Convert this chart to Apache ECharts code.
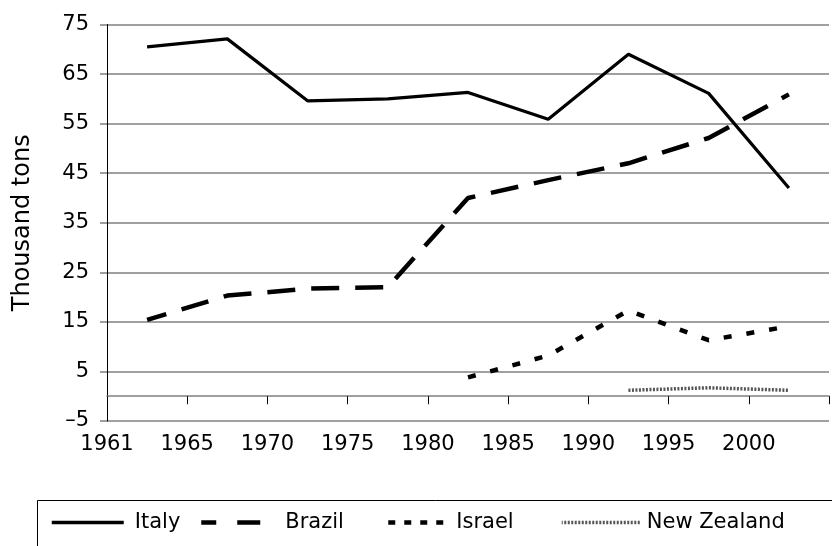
<!DOCTYPE html>
<html>
<head>
<meta charset="utf-8">
<script src="https://cdn.jsdelivr.net/npm/echarts@6/dist/echarts.min.js"></script>
<style>html,body{margin:0;padding:0;background:#fff;}#c{width:832px;height:546px;}</style>
</head>
<body>
<div id="c"></div>
<script>
// ---- data ----
var dataYears = ['1962', '1967', '1972', '1977', '1982', '1987', '1992', '1997', '2002'];
var tickLabels = ['1961', '1965', '1970', '1975', '1980', '1985', '1990', '1995', '2000', ''];
var italy = [70.5, 72.1, 59.6, 60.0, 61.3, 55.9, 69.0, 61.1, 42.0];
var brazil = [15.4, 20.3, 21.7, 22.0, 40.0, 43.6, 47.0, 52.1, 60.9];
var israel = [null, null, null, null, 3.8, 8.2, 17.3, 11.3, 14.1];
var newZealand = [null, null, null, null, null, null, 1.2, 1.7, 1.2];
var seriesNames = ['Italy', 'Brazil', 'Israel', 'New Zealand'];
var yTicks = { min: -5, max: 75, step: 10 };

var FONT = 'DejaVu Sans, sans-serif';
var chart = echarts.init(document.getElementById('c'), null, { renderer: 'canvas' });

function legendFor(name, left, width, lineStyle, pad) {
  return {
    data: [name], left: left, top: 512, padding: 0,
    itemWidth: width, itemHeight: 14, selectedMode: false,
    itemStyle: { opacity: 0, color: 'rgba(0,0,0,0)', borderWidth: 0 },
    lineStyle: lineStyle,
    textStyle: { fontFamily: FONT, fontSize: 21, color: '#000', padding: [0, 0, 0, pad] }
  };
}

var option = {
  animation: false,
  backgroundColor: '#fff',
  grid: { left: 107, top: 24.5, bottom: 125, right: -8.5, containLabel: false },
  xAxis: [
    {
      type: 'category', data: dataYears, boundaryGap: true,
      axisLine: { show: true, onZero: true, lineStyle: { color: '#808080', width: 1.5 } },
      axisTick: { show: true, inside: false, length: 8, interval: 0, lineStyle: { color: '#000', width: 1 } },
      axisLabel: { show: false },
      splitLine: { show: false }
    },
    {
      type: 'value', min: 0, max: tickLabels.length - 1, interval: 1, position: 'bottom',
      axisLine: { show: false, onZero: false },
      axisTick: { show: false },
      splitLine: { show: false },
      axisLabel: {
        show: true, margin: 13, fontFamily: FONT, fontSize: 21, color: '#000',
        formatter: function (v) { return tickLabels[Math.round(v)] || ''; }
      }
    }
  ],
  yAxis: {
    type: 'value', min: yTicks.min, max: yTicks.max, interval: yTicks.step,
    name: 'Thousand tons', nameLocation: 'middle', nameGap: 72,
    nameTextStyle: { fontFamily: FONT, fontSize: 24, color: '#000' },
    axisLine: { show: true, onZero: false, lineStyle: { color: '#000', width: 1 } },
    axisTick: { show: true, length: 7, lineStyle: { color: '#808080', width: 1.5 } },
    splitLine: { show: true, lineStyle: { color: '#808080', width: 1.5 } },
    axisLabel: {
      margin: 18, fontFamily: FONT, fontSize: 21, color: '#000',
      formatter: function (v) { return v < 0 ? '\u2013' + Math.abs(v) : String(v); }
    }
  },
  legend: [
    legendFor(seriesNames[0], 50, 72, { color: '#000', width: 3.5, type: 'solid' }, 6),
    legendFor(seriesNames[1], 199, 67, { color: '#000', width: 4.5, type: [23, 21] }, 12),
    legendFor(seriesNames[2], 378, 71, { color: '#000', width: 4.5, type: [7, 9] }, 0),
    legendFor(seriesNames[3], 560, 78, { color: '#555', width: 3.5, type: [2, 1.5] }, 2)
  ],
  graphic: [
    { type: 'rect', shape: { x: 37.5, y: 500.5, width: 900, height: 100 },
      style: { fill: 'none', stroke: '#000', lineWidth: 1 }, silent: true, z: 0 }
  ],
  series: [
    { name: seriesNames[0], type: 'line', data: italy, symbol: 'none',
      lineStyle: { color: '#000', width: 3.2, type: 'solid' }, itemStyle: { color: '#000' } },
    { name: seriesNames[1], type: 'line', data: brazil, symbol: 'none',
      lineStyle: { color: '#000', width: 4.5, type: [28, 16], dashOffset: 8 }, itemStyle: { color: '#000' } },
    { name: seriesNames[2], type: 'line', data: israel, symbol: 'none',
      lineStyle: { color: '#000', width: 4.5, type: [8, 15] }, itemStyle: { color: '#000' } },
    { name: seriesNames[3], type: 'line', data: newZealand, symbol: 'none',
      lineStyle: { color: '#555', width: 3.5, type: [2, 1.5] }, itemStyle: { color: '#555' } }
  ]
};
chart.setOption(option);
</script>
</body>
</html>
